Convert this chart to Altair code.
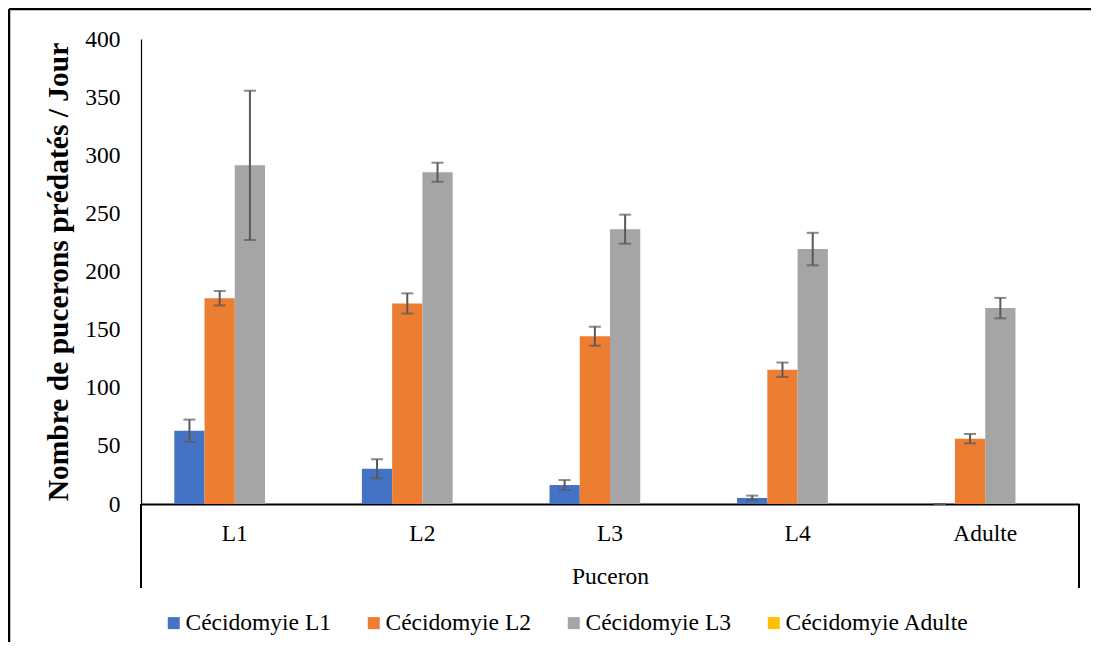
import altair as alt
import pandas as pd

categories = ["L1", "L2", "L3", "L4", "Adulte"]
series = ["Cécidomyie L1", "Cécidomyie L2", "Cécidomyie L3", "Cécidomyie Adulte"]
colors = ["#4472C4", "#ED7D31", "#A5A5A5", "#FFC000"]

cec_l1 = [63, 30.3, 16.3, 5.2, 0]
cec_l1_err = [9.6, 8.2, 4.3, 2, 0]
cec_l2 = [177, 172.5, 144.3, 115.5, 56.2]
cec_l2_err = [6.2, 8.7, 8.2, 6.2, 4]
cec_l3 = [291.3, 285.4, 236.4, 219.3, 168.5]
cec_l3_err = [64.2, 8.2, 12.5, 14, 8.8]
cec_ad = [0, 0, 0, 0, 0]
cec_ad_err = [None, None, None, None, None]

rows = []
for s, vals, errs in [
    (series[0], cec_l1, cec_l1_err),
    (series[1], cec_l2, cec_l2_err),
    (series[2], cec_l3, cec_l3_err),
    (series[3], cec_ad, cec_ad_err),
]:
    for c, v, e in zip(categories, vals, errs):
        rows.append({
            "cat": c, "serie": s, "val": v,
            "lo": None if e is None else v - e,
            "hi": None if e is None else v + e,
            "has_err": e is not None,
        })
df = pd.DataFrame(rows)

FONT = "Liberation Serif"
FS = 23.5
W, H = 938, 465

x_enc = alt.X("cat:N", sort=categories,
              scale=alt.Scale(paddingInner=0.355, paddingOuter=0.1775),
              axis=alt.Axis(title="Puceron", labelAngle=0, ticks=False,
                            labelPadding=17, titlePadding=20,
                            domainColor="black", domainWidth=2,
                            labelFont=FONT, labelFontSize=FS, labelColor="black",
                            titleFont=FONT, titleFontSize=FS, titleFontWeight="normal",
                            titleColor="black"))
xo_enc = alt.XOffset("serie:N", sort=series, scale=alt.Scale(paddingInner=0, paddingOuter=0))

base = alt.Chart(df)

bars = base.mark_bar().encode(
    x=x_enc,
    xOffset=xo_enc,
    y=alt.Y("val:Q", scale=alt.Scale(domain=[0, 400], nice=False),
            axis=alt.Axis(title="Nombre de pucerons prédatés / Jour",
                          values=list(range(0, 401, 50)), grid=False, ticks=False,
                          labelPadding=21, titlePadding=11,
                          domainColor="black", domainWidth=1.2,
                          labelFont=FONT, labelFontSize=FS, labelColor="black",
                          titleFont=FONT, titleFontSize=29.5, titleFontWeight="bold",
                          titleColor="black")),
    color=alt.Color("serie:N", sort=series,
                    scale=alt.Scale(domain=series, range=colors),
                    legend=alt.Legend(title=None, orient="none", direction="horizontal",
                                      columns=4, gridAlign="each", columnPadding=30,
                                      padding=0,
                                      legendX=21, legendY=572,
                                      symbolType="square", symbolSize=144,
                                      symbolStrokeWidth=0, labelOffset=0,
                                      labelFont=FONT, labelFontSize=FS,
                                      labelColor="black", labelLimit=400)),
)

err_base = base.transform_filter("datum.has_err")

err_rule = err_base.mark_rule(color="#595959", strokeWidth=2).encode(
    x=alt.X("cat:N", sort=categories), xOffset=xo_enc,
    y="lo:Q", y2="hi:Q",
)
cap_hi = err_base.mark_tick(color="#595959", thickness=2, size=12, orient="horizontal").encode(
    x=alt.X("cat:N", sort=categories), xOffset=xo_enc, y="hi:Q",
)
cap_lo = err_base.mark_tick(color="#595959", thickness=2, size=12, orient="horizontal").encode(
    x=alt.X("cat:N", sort=categories), xOffset=xo_enc, y="lo:Q",
)

one = pd.DataFrame({"k": [0]})
border_top = alt.Chart(one).mark_rule(color="black", strokeWidth=2.5).encode(
    x=alt.value(-132), x2=alt.value(1100), y=alt.value(-30),
)
border_left = alt.Chart(one).mark_rule(color="black", strokeWidth=2.5).encode(
    x=alt.value(-132), y=alt.value(-30), y2=alt.value(700),
)
box_left = alt.Chart(one).mark_rule(color="black", strokeWidth=2).encode(
    x=alt.value(0), y=alt.value(H), y2=alt.value(549),
)
box_right = alt.Chart(one).mark_rule(color="black", strokeWidth=2).encode(
    x=alt.value(W), y=alt.value(H), y2=alt.value(549),
)

chart = alt.layer(border_top, border_left, bars, err_rule, cap_hi, cap_lo,
                  box_left, box_right).properties(
    width=W, height=H,
    background="white",
    autosize=alt.AutoSizeParams(type="none"),
    padding={"left": 133, "top": 31, "right": 12, "bottom": 138},
).configure_view(stroke=None)

chart.save("out.html", embed_options={"renderer": "svg", "actions": False})
